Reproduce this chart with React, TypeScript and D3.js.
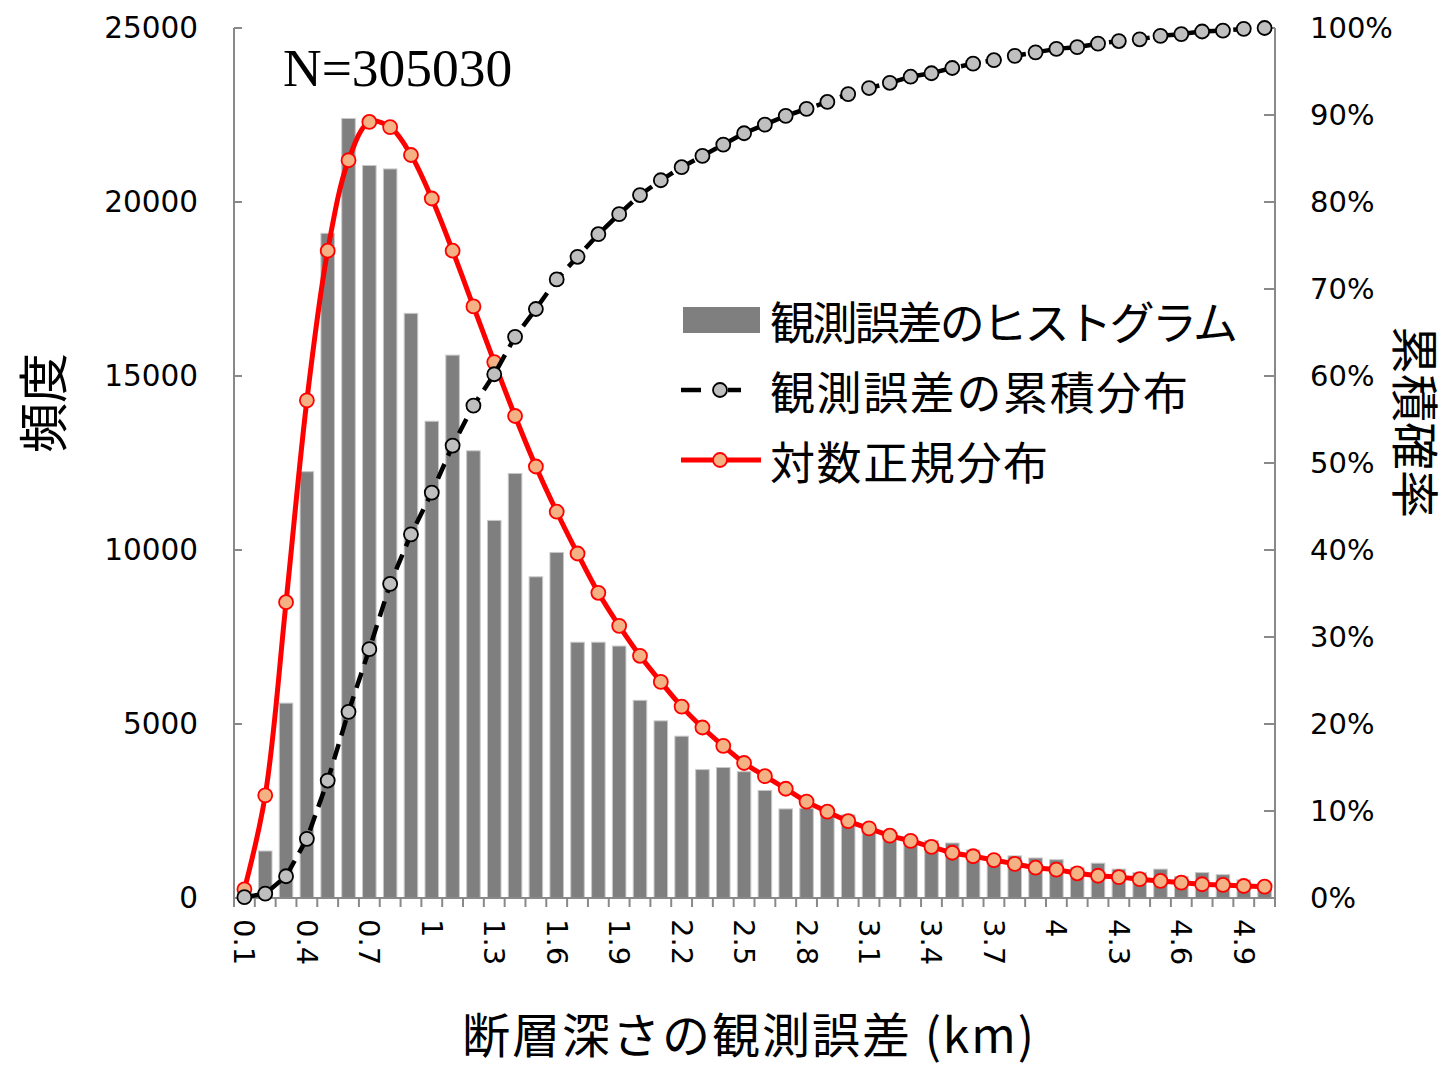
import React from "react";
import * as d3 from "d3";

const categories = [
  "0.1","0.2","0.3","0.4","0.5","0.6","0.7","0.8","0.9","1",
  "1.1","1.2","1.3","1.4","1.5","1.6","1.7","1.8","1.9","2",
  "2.1","2.2","2.3","2.4","2.5","2.6","2.7","2.8","2.9","3",
  "3.1","3.2","3.3","3.4","3.5","3.6","3.7","3.8","3.9","4",
  "4.1","4.2","4.3","4.4","4.5","4.6","4.7","4.8","4.9","5",
];

const histogram = [
  60, 1350, 5600, 12250, 19100, 22400, 21050, 20950, 16800, 13700,
  15600, 12850, 10850, 12200, 9230, 9930, 7350, 7350, 7240, 5680,
  5090, 4650, 3690, 3750, 3630, 3090, 2560, 2580, 2390, 2390,
  2050, 1720, 1700, 1650, 1580, 1380, 1150, 1210, 1150, 1100,
  880, 1000, 830, 730, 830, 620, 730, 670, 520, 400,
];

const lognormal = [
  250, 2950, 8500, 14300, 18600, 21200, 22300, 22150, 21350, 20100,
  18600, 17000, 15400, 13850, 12400, 11100, 9900, 8770, 7820, 6960,
  6210, 5500, 4900, 4370, 3880, 3500, 3140, 2770, 2480, 2210,
  2000, 1790, 1640, 1470, 1300, 1200, 1090, 980, 870, 815,
  710, 640, 600, 540, 490, 440, 395, 375, 345, 325,
];

const cumulative = [
  0.001, 0.005, 0.025, 0.068, 0.135, 0.214, 0.286, 0.361, 0.418, 0.466,
  0.52, 0.566, 0.602, 0.645, 0.677, 0.711, 0.737, 0.763, 0.786, 0.808,
  0.825, 0.84, 0.853, 0.866, 0.879, 0.889, 0.899, 0.907, 0.915, 0.924,
  0.931, 0.937, 0.944, 0.948, 0.954, 0.959, 0.963, 0.968, 0.972, 0.976,
  0.978, 0.982, 0.985, 0.987, 0.991, 0.993, 0.996, 0.997, 0.999, 1.0,
];

const leftTicks = [0, 5000, 10000, 15000, 20000, 25000];
const rightTicks = [0, 0.1, 0.2, 0.3, 0.4, 0.5, 0.6, 0.7, 0.8, 0.9, 1.0];
const xLabelEvery = 3;

const legendItems = ["観測誤差のヒストグラム", "観測誤差の累積分布", "対数正規分布"];
const sampleLabel = "N=305030";
const xTitle = "断層深さの観測誤差 (km)";
const yLeftTitle = "頻度";
const yRightTitle = "累積確率";

const W = 1453;
const H = 1067;
const L = 234;
const R = 1275;
const T = 28;
const B = 898;

const AXIS = "#898989";
const NUM_FONT = "'DejaVu Sans', sans-serif";
const JP_FONT = "'Noto Sans CJK JP', sans-serif";

export default function App() {
  const x = d3
    .scaleBand<string>()
    .domain(categories)
    .range([L, R])
    .paddingInner(0.35)
    .paddingOuter(0.175);
  const cx = (c: string) => (x(c) as number) + x.bandwidth() / 2;
  const yL = d3.scaleLinear().domain([0, 25000]).range([B, T]);
  const yR = d3.scaleLinear().domain([0, 1]).range([B, T]);

  const redLine = d3
    .line<number>()
    .x((_, i) => cx(categories[i]))
    .y((d) => yL(d))
    .curve(d3.curveCatmullRom.alpha(0.5));
  const cumLine = d3
    .line<number>()
    .x((_, i) => cx(categories[i]))
    .y((d) => yR(d));

  const step = x.step();
  const boundaries = d3.range(categories.length + 1).map((i) => L + i * step);

  const legX = 683;
  const legRows = [320, 390, 460];
  const legWidths = [468, 418, 278];

  return (
    <svg
      width={W}
      height={H}
      style={{ position: "absolute", left: 0, top: 0, background: "#fff" }}
    >
      {/* bars */}
      {histogram.map((v, i) => (
        <rect
          key={"b" + i}
          x={x(categories[i])}
          y={yL(v)}
          width={x.bandwidth()}
          height={B - yL(v)}
          fill="#7f7f7f"
          stroke="#c8c8c8"
          strokeWidth={1}
        />
      ))}

      {/* axes */}
      <line x1={L} y1={T} x2={L} y2={B} stroke={AXIS} strokeWidth={2} />
      <line x1={R} y1={T} x2={R} y2={B} stroke={AXIS} strokeWidth={2} />
      <line x1={L} y1={B} x2={R} y2={B} stroke={AXIS} strokeWidth={2} />
      {leftTicks.map((t) => (
        <g key={"lt" + t}>
          <line x1={L} x2={L + 8} y1={yL(t)} y2={yL(t)} stroke={AXIS} strokeWidth={2} />
          <text
            x={198}
            y={yL(t)}
            textAnchor="end"
            dominantBaseline="central"
            fontFamily={NUM_FONT}
            fontSize={29.5}
            fill="#000"
          >
            {t}
          </text>
        </g>
      ))}
      {rightTicks.map((t) => (
        <g key={"rt" + t}>
          <line x1={R - 11} x2={R} y1={yR(t)} y2={yR(t)} stroke={AXIS} strokeWidth={2} />
          <text
            x={1310}
            y={yR(t)}
            textAnchor="start"
            dominantBaseline="central"
            fontFamily={NUM_FONT}
            fontSize={29}
            fill="#000"
          >
            {Math.round(t * 100) + "%"}
          </text>
        </g>
      ))}
      {boundaries.map((bx, i) => (
        <line key={"bt" + i} x1={bx} x2={bx} y1={B} y2={B + 9} stroke={AXIS} strokeWidth={2} />
      ))}
      {categories.map((c, i) =>
        i % xLabelEvery === 0 ? (
          <text
            key={"xl" + i}
            transform={`translate(${cx(c)},${919}) rotate(90)`}
            textAnchor="start"
            dominantBaseline="central"
            fontFamily={NUM_FONT}
            fontSize={29}
            fill="#000"
          >
            {c}
          </text>
        ) : null
      )}

      {/* red lognormal */}
      <path d={redLine(lognormal) as string} fill="none" stroke="#ff0000" strokeWidth={5} />
      {lognormal.map((v, i) => (
        <circle
          key={"r" + i}
          cx={cx(categories[i])}
          cy={yL(v)}
          r={7}
          fill="#f4b183"
          stroke="#ff0000"
          strokeWidth={1.8}
        />
      ))}

      {/* cumulative */}
      <path
        d={cumLine(cumulative) as string}
        fill="none"
        stroke="#000"
        strokeWidth={4.5}
        strokeDasharray="16,9"
      />
      {cumulative.map((v, i) => (
        <circle
          key={"c" + i}
          cx={cx(categories[i])}
          cy={yR(v)}
          r={7}
          fill="#bfbfbf"
          stroke="#000"
          strokeWidth={1.8}
        />
      ))}

      {/* N label */}
      <text
        x={283}
        y={68}
        dominantBaseline="central"
        fontFamily="'Liberation Serif', 'Times New Roman', serif"
        fontSize={53.5}
        fill="#000"
      >
        {sampleLabel}
      </text>

      {/* legend */}
      <rect x={legX} y={legRows[0] - 13} width={77} height={26} fill="#7f7f7f" />
      <line x1={legX - 2} x2={legX + 18} y1={legRows[1]} y2={legRows[1]} stroke="#000" strokeWidth={4.5} />
      <line x1={legX + 45} x2={legX + 58} y1={legRows[1]} y2={legRows[1]} stroke="#000" strokeWidth={4.5} />
      <circle cx={legX + 37} cy={legRows[1]} r={7} fill="#bfbfbf" stroke="#000" strokeWidth={1.8} />
      <line x1={legX - 2} x2={legX + 78} y1={legRows[2]} y2={legRows[2]} stroke="#ff0000" strokeWidth={5} />
      <circle cx={legX + 37} cy={legRows[2]} r={7} fill="#f4b183" stroke="#ff0000" strokeWidth={1.8} />
      {legendItems.map((t, i) => (
        <text
          key={"lg" + i}
          x={770}
          y={legRows[i]}
          dominantBaseline="central"
          fontFamily={JP_FONT}
          fontSize={45}
          textLength={legWidths[i]}
          lengthAdjust="spacing"
          fill="#000"
        >
          {t}
        </text>
      ))}

      {/* axis titles */}
      <text
        x={748}
        y={1032}
        textAnchor="middle"
        dominantBaseline="central"
        fontFamily={JP_FONT}
        fontSize={48}
        textLength={572}
        lengthAdjust="spacing"
        fill="#000"
      >
        {xTitle}
      </text>
      <text
        transform={`translate(40,403) rotate(-90)`}
        textAnchor="middle"
        dominantBaseline="central"
        fontFamily={JP_FONT}
        fontSize={50}
        fill="#000"
      >
        {yLeftTitle}
      </text>
      <text
        transform={`translate(1418,422) rotate(90)`}
        textAnchor="middle"
        dominantBaseline="central"
        fontFamily={JP_FONT}
        fontSize={48}
        fill="#000"
      >
        {yRightTitle}
      </text>
    </svg>
  );
}
